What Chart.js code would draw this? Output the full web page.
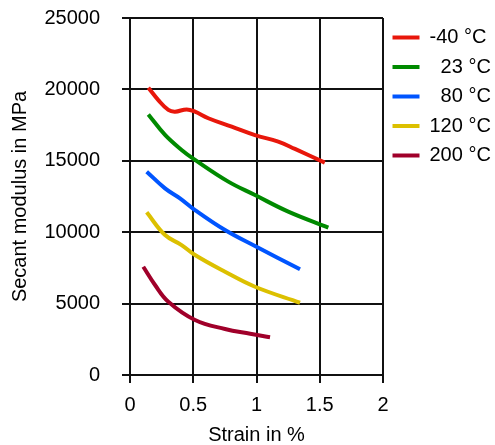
<!DOCTYPE html>
<html>
<head>
<meta charset="utf-8">
<script src="https://cdn.jsdelivr.net/npm/chart.js@4"></script>
<style>
    html, body { margin: 0; padding: 0; background: #ffffff; }
    #wrap { width: 495px; height: 445px; }
</style>
</head>
<body>
<div id="wrap"><canvas id="modulusChart"></canvas></div>
<script>
// SECANT MODULUS vs STRAIN
const seriesLabels = ['-40 °C', '\u200723 °C', '\u200780 °C', '120 °C', '200 °C'];
const seriesColors = ['#e8170b', '#008a00', '#0055ff', '#dcc000', '#a0002a'];

const strainM40 = [0.145, 0.224, 0.303, 0.356, 0.448, 0.514, 0.619, 0.804, 0.988, 1.172, 1.304, 1.54];
const modulusM40 = [20120, 19250, 18560, 18440, 18600, 18440, 17980, 17390, 16800, 16340, 15830, 14870];

const strain23 = [0.145, 0.277, 0.408, 0.514, 0.777, 0.988, 1.251, 1.568];
const modulus23 = [18250, 16810, 15760, 15060, 13540, 12600, 11440, 10320];

const strain80 = [0.132, 0.277, 0.395, 0.514, 0.751, 0.988, 1.344];
const modulus80 = [14240, 13070, 12370, 11550, 10150, 9030, 7400];

const strain120 = [0.132, 0.277, 0.408, 0.514, 0.751, 0.988, 1.344];
const modulus120 = [11390, 9800, 9100, 8400, 7230, 6180, 5060];

const strain200 = [0.105, 0.198, 0.303, 0.514, 0.751, 0.95, 1.107];
const modulus200 = [7580, 6300, 5130, 3850, 3220, 2890, 2650];

const xTicks = [0, 0.5, 1, 1.5, 2];
const yTicks = [0, 5000, 10000, 15000, 20000, 25000];

const strainSets = [strainM40, strain23, strain80, strain120, strain200];
const modulusSets = [modulusM40, modulus23, modulus80, modulus120, modulus200];

const FONT = { family: '"Liberation Sans", Arial, sans-serif', size: 20 };

const ctx = document.getElementById('modulusChart');

new Chart(ctx, {
    type: 'line',

    data: {
        datasets: seriesLabels.map((label, i) => ({
            label: label,
            data: strainSets[i].map((x, j) => ({ x: x, y: modulusSets[i][j] })),
            borderColor: seriesColors[i],
            backgroundColor: seriesColors[i],
            borderWidth: 4,
            pointRadius: 0,
            fill: false,
            tension: 0.4
        }))
    },

    options: {
        responsive: true,
        maintainAspectRatio: false,
        animation: false,
        events: [],

        layout: {
            padding: { top: 18, right: 0, left: 0, bottom: 0 }
        },

        plugins: {
            legend: {
                display: true,
                position: 'right',
                align: 'start',
                maxWidth: 112,
                labels: {
                    font: FONT,
                    color: '#000000',
                    boxWidth: 27,
                    boxHeight: 4,
                    padding: 9.5,
                    generateLabels: function (chart) {
                        const items = Chart.defaults.plugins.legend.labels.generateLabels(chart);
                        items.forEach(item => {
                            item.lineWidth = 0;
                        });
                        return items;
                    }
                }
            },
            tooltip: { enabled: false }
        },

        scales: {
            x: {
                type: 'linear',
                min: 0,
                max: 2,
                afterBuildTicks: function (scale) {
                    scale.ticks = xTicks.map(v => ({ value: v }));
                },
                afterFit: function (scale) {
                    scale.height = 70;
                },
                grid: {
                    color: '#111111',
                    lineWidth: 2,
                    tickLength: 8
                },
                border: { color: '#111111', width: 2 },
                ticks: {
                    font: FONT,
                    color: '#000000',
                    padding: 10,
                    maxRotation: 0,
                    callback: v => String(v)
                },
                title: {
                    display: true,
                    text: 'Strain in %',
                    font: Object.assign({ lineHeight: 1 }, FONT),
                    color: '#000000',
                    padding: { top: 0, bottom: 0 }
                }
            },

            y: {
                min: 0,
                max: 25000,
                afterBuildTicks: function (scale) {
                    scale.ticks = yTicks.map(v => ({ value: v }));
                },
                afterFit: function (scale) {
                    scale.width = 130;
                    scale.paddingTop = 0;
                    scale.paddingBottom = 0;
                },
                grid: {
                    color: '#111111',
                    lineWidth: 2,
                    tickLength: 8
                },
                border: { color: '#111111', width: 2 },
                ticks: {
                    font: FONT,
                    color: '#000000',
                    padding: 22,
                    callback: v => String(v)
                },
                title: {
                    display: true,
                    text: 'Secant modulus in MPa',
                    font: Object.assign({ lineHeight: 1 }, FONT),
                    color: '#000000',
                    padding: { top: 10, bottom: 0 }
                }
            }
        }
    }
});
</script>
</body>
</html>
